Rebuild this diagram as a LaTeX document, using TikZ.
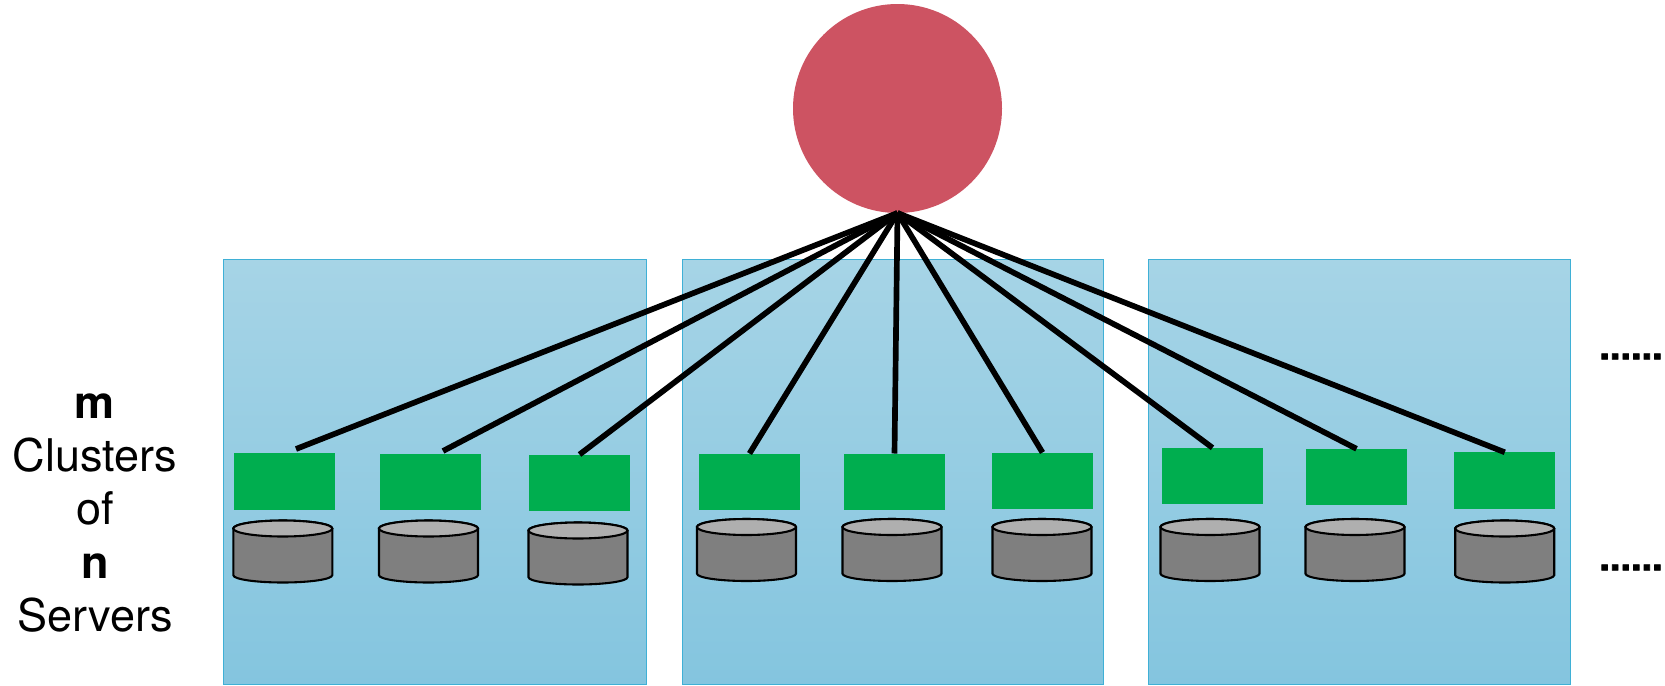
\documentclass[tikz,border=0pt]{standalone}
\usepackage{fontspec}
\setmainfont{TeX Gyre Heros}
\newfontfamily\dotfont[FakeBold=2]{TeX Gyre Heros Bold}
\definecolor{panelTop}{HTML}{A6D4E6}
\definecolor{panelBot}{HTML}{84C5DF}
\definecolor{panelEdge}{HTML}{3FB0D6}
\definecolor{hubRed}{HTML}{CD5362}
\definecolor{srvGreen}{HTML}{00AE4F}
\definecolor{cylBody}{HTML}{7F7F7F}
\definecolor{cylTop}{HTML}{AFAFAF}
\tikzset{
  x=0.6pt,y=-0.6pt,
  panel/.style={rectangle,draw=panelEdge,line width=0.6pt,top color=panelTop,bottom color=panelBot,minimum height=425*0.6pt,outer sep=0pt,inner sep=0pt},
  hub/.style={circle,fill=hubRed,minimum size=209*0.6pt,inner sep=0pt,outer sep=0pt},
  server/.style={rectangle,fill=srvGreen,minimum width=101*0.6pt,minimum height=56.4*0.6pt,inner sep=0pt,outer sep=0pt},
  diskbox/.style={rectangle,minimum width=99*0.6pt,minimum height=62*0.6pt,inner sep=0pt,outer sep=0pt},
  diskline/.style={draw=black,line width=1.25pt},
  link/.style={draw=black,line width=3.4pt},
  dots/.style={font=\fontsize{22.8}{26}\selectfont\dotfont,inner sep=0pt},
  side/.style={align=center,font=\fontsize{27}{31.9}\selectfont,inner sep=0pt}
}
% named disk: a box node that carries the name, with the cylinder drawn in it
\newcommand\diskat[3]{%
  \node[diskbox] (#1) at (#2,#3) {};
  \path[fill=cylBody,diskline] ([yshift=-4.8pt]#1.north west) -- ([yshift=4.4pt]#1.south west)
     arc[start angle=180,end angle=360,x radius=29.7pt,y radius=4.4pt]
     -- ([yshift=-4.8pt]#1.north east)
     arc[start angle=0,end angle=-180,x radius=29.7pt,y radius=-4.8pt] -- cycle;
  \path[fill=cylTop,diskline] ([yshift=-4.8pt]#1.north) ellipse[x radius=29.7pt,y radius=4.8pt];
}
\begin{document}
\begin{tikzpicture}
\useasboundingbox (0,0) rectangle (1665,685);
\node[panel,minimum width=423*0.6pt] (p1) at (435.2,471.5) {};
\node[panel,minimum width=421*0.6pt] (p2) at (892.7,471.5) {};
\node[panel,minimum width=422*0.6pt] (p3) at (1359.7,471.5) {};
\node[hub] (hub) at (897.5,108.5) {};
\node[server] (s1) at (284.5,481.5) {};
\node[server] (s2) at (430.5,482) {};
\node[server] (s3) at (579.5,482.7) {};
\node[server] (s4) at (749.5,481.7) {};
\node[server] (s5) at (894.5,481.7) {};
\node[server] (s6) at (1042.5,480.7) {};
\node[server] (s7) at (1212.5,476) {};
\node[server] (s8) at (1356.5,477) {};
\node[server] (s9) at (1504.8,480.5) {};
\diskat{c1}{282.8}{551.5}
\diskat{c2}{428.5}{551.5}
\diskat{c3}{578}{553.5}
\diskat{c4}{746.5}{550}
\diskat{c5}{892}{550}
\diskat{c6}{1042}{550}
\diskat{c7}{1210}{550}
\diskat{c8}{1355}{550}
\diskat{c9}{1504.7}{551.5}
\coordinate (t1) at (296,449);
\coordinate (t2) at (443,451);
\foreach \e in {t1,t2,s3.north,s4.north,s5.north,s6.north,s7.north,s8.north,s9.north}
  \draw[link] (hub.south) -- (\e);
\node[side] (label) at (95,513) {\textbf{m}\\Clusters\\of\\\textbf{n}\\Servers};
\node[dots] (d1) at (1631,356.5) {......};
\node[dots] (d2) at (1631,567.5) {......};
\end{tikzpicture}
\end{document}
